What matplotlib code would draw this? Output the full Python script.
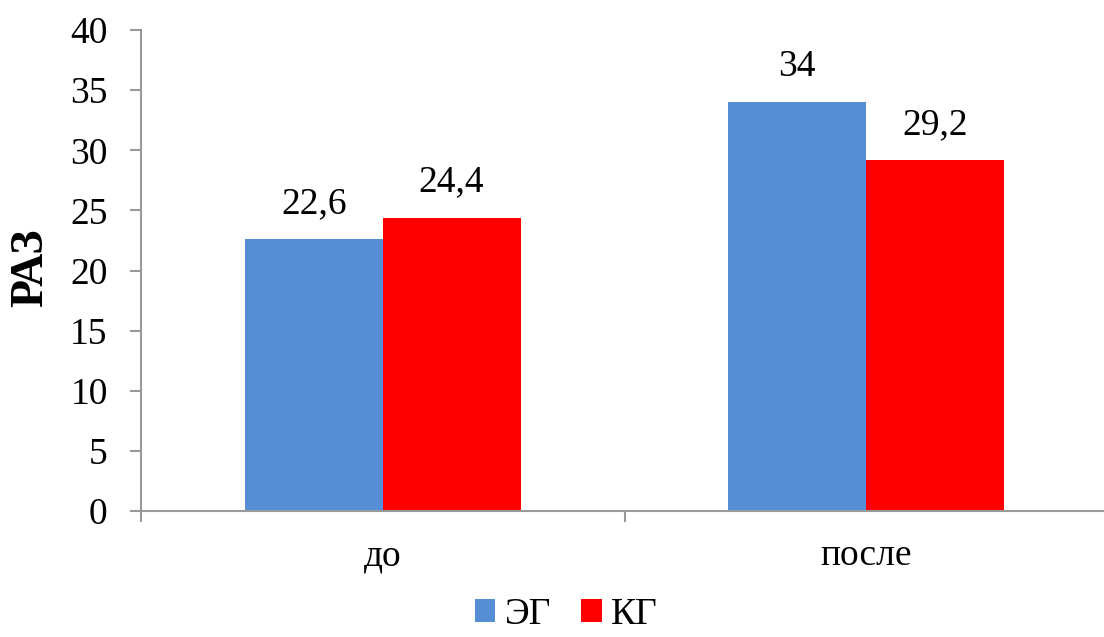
import matplotlib
matplotlib.use("Agg")
import matplotlib.pyplot as plt
import numpy as np

categories = ["до", "после"]
eg_vals = [22.6, 34]
kg_vals = [24.4, 29.2]
eg_labels = ["22,6", "34"]
kg_labels = ["24,4", "29,2"]

plt.rcParams['font.family'] = ['Liberation Serif', 'DejaVu Serif']

fig = plt.figure(figsize=(11.04, 6.37), dpi=100)
ax = fig.add_axes([141/1104, 1 - 511/637, 967/1104, 481/637])

x = np.arange(len(categories))
w = 0.285
b1 = ax.bar(x - w/2, eg_vals, w, color='#558ED5', label='ЭГ')
b2 = ax.bar(x + w/2, kg_vals, w, color='#FF0000', label='КГ')

for bars, labs in ((b1, eg_labels), (b2, kg_labels)):
    for r, t in zip(bars, labs):
        ax.text(r.get_x() + r.get_width()/2, r.get_height() + 1.5, t,
                ha='center', va='bottom', fontsize=27)

ax.set_xlim(-0.5, 1.5)
ax.set_ylim(0, 40)
ax.set_yticks(range(0, 41, 5))
ax.tick_params(axis='y', labelsize=27, length=8, color='#999999', width=1.5, pad=16)
ax.set_xticks([-0.5, 0.5, 1.5])
ax.set_xticks(x, minor=True)
ax.set_xticklabels([])
ax.set_xticklabels(categories, minor=True)
ax.tick_params(axis='x', which='major', length=8, color='#999999', width=1.5)
ax.tick_params(axis='x', which='minor', length=0, labelsize=27, pad=20)

for s in ['top', 'right']:
    ax.spines[s].set_visible(False)
for s in ['left', 'bottom']:
    ax.spines[s].set_color('#999999')
    ax.spines[s].set_linewidth(1.5)

ax.set_ylabel('РАЗ', fontsize=33, fontweight='bold', va='center')
ax.yaxis.set_label_coords(-0.114, 0.505)

fig.legend(handles=[b1, b2], loc='lower center', bbox_to_anchor=(0.513, -0.045),
           ncol=2, frameon=False, fontsize=27, handlelength=0.55, handleheight=0.55,
           handletextpad=0.25, columnspacing=0.8)

fig.savefig('out.png', dpi=100)
